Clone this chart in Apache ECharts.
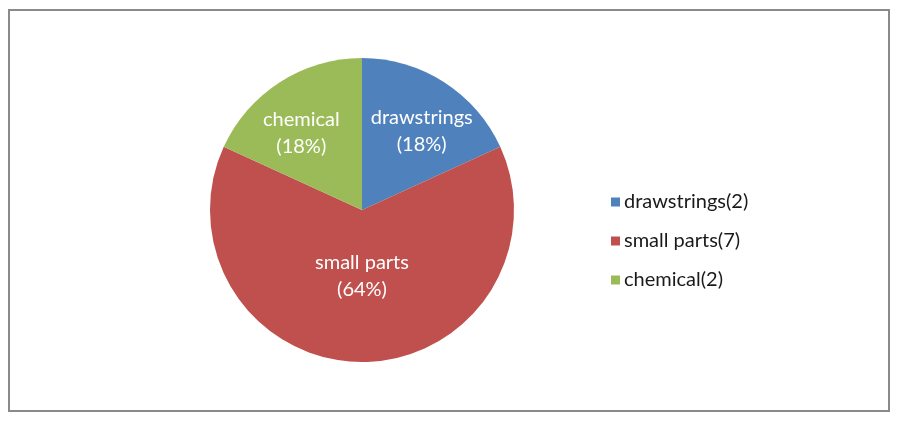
<!DOCTYPE html>
<html>
<head>
<meta charset="utf-8">
<script src="https://cdn.jsdelivr.net/npm/echarts@6/dist/echarts.min.js"></script>
<style>
html,body{margin:0;padding:0;background:#fff;}
#chart{width:900px;height:423px;}
</style>
</head>
<body>
<div id="chart"></div>
<script>
const categories = ['drawstrings', 'small parts', 'chemical'];
const values = [2, 7, 2];
const percents = ['18%', '64%', '18%'];
const colors = ['#4F81BD', '#C0504D', '#9BBB59'];
const labelOffsets = [[17, -12], [0, -13], [-18, -10]];

const chart = echarts.init(document.getElementById('chart'), null, {renderer: 'canvas'});
const font = 'Lato, "Noto Sans", sans-serif';
const legendNames = categories.map((c, i) => c + '(' + values[i] + ')');

chart.setOption({
  animation: false,
  graphic: [{
    type: 'rect',
    shape: {x: 9, y: 10, width: 880, height: 401},
    style: {fill: 'none', stroke: '#8a8a8a', lineWidth: 2},
    z: 100
  }],
  legend: {
    orient: 'vertical',
    left: 606,
    top: 187,
    itemWidth: 9,
    itemHeight: 9,
    itemGap: 19,
    icon: 'rect',
    textStyle: {fontFamily: font, fontSize: 20, color: '#1a1a1a', padding: [0, 0, 0, -1]},
    data: legendNames
  },
  series: [{
    type: 'pie',
    center: [362, 210],
    radius: [0, 152],
    startAngle: 90,
    clockwise: true,
    silent: true,
    label: {
      show: true,
      position: 'inside',
      color: '#ffffff',
      fontFamily: font,
      fontSize: 20,
      lineHeight: 27,
      formatter: p => p.data.cat + '\n(' + p.data.pct + ')'
    },
    labelLine: {show: false},
    data: categories.map((c, i) => ({
      name: legendNames[i],
      cat: c,
      pct: percents[i],
      value: values[i],
      itemStyle: {color: colors[i]},
      label: {offset: labelOffsets[i]}
    }))
  }]
});
</script>
</body>
</html>
